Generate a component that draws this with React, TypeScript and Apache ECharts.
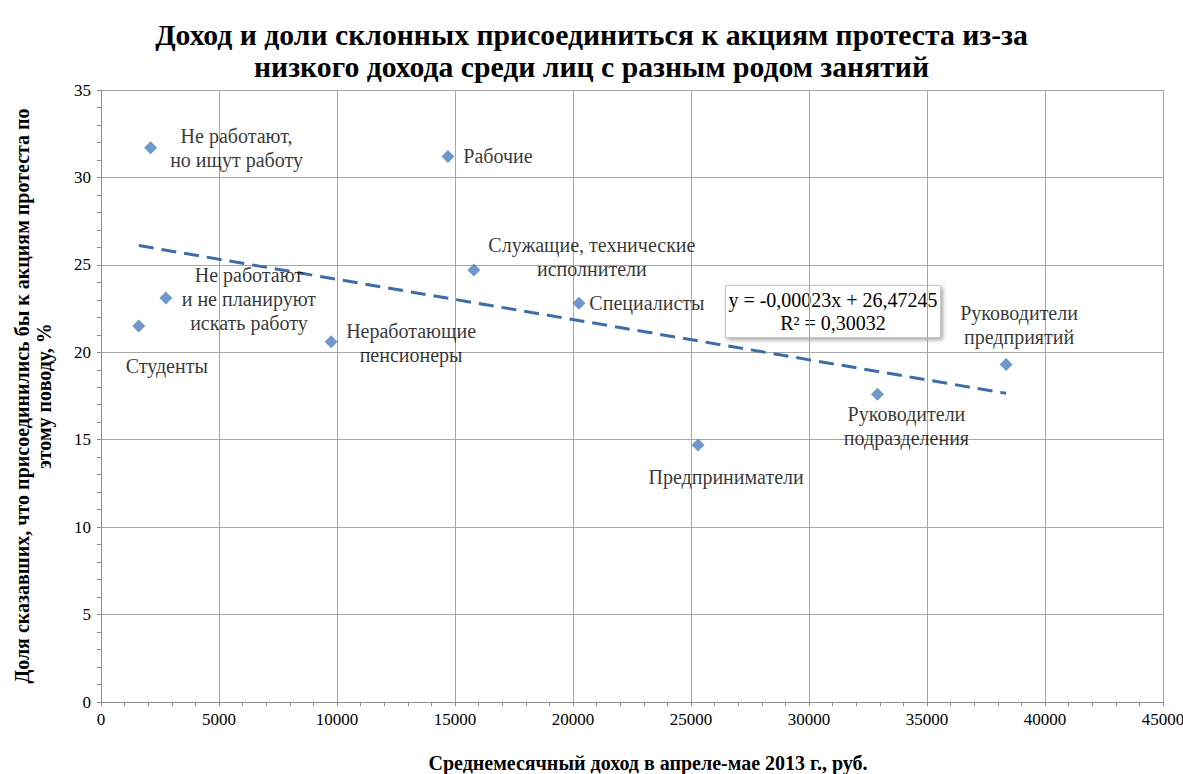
import React, { useEffect, useRef } from "react";
import * as echarts from "echarts";

const titleLines = [
  "Доход и доли склонных присоединиться к акциям протеста из-за",
  "низкого дохода среди лиц с разным родом занятий",
];
const xAxisTitle = "Среднемесячный доход в апреле-мае 2013 г., руб.";
const yAxisTitle = "Доля сказавших, что присоединились бы к акциям протеста по\nэтому поводу, %";

const categories = [
  "Не работают,\nно ищут работу",
  "Рабочие",
  "Служащие, технические\nисполнители",
  "Не работают\nи не планируют\nискать работу",
  "Студенты",
  "Неработающие\nпенсионеры",
  "Специалисты",
  "Предприниматели",
  "Руководители\nподразделения",
  "Руководители\nпредприятий",
];
const incomes = [2100, 14700, 15800, 2750, 1600, 9750, 20250, 25300, 32900, 38350];
const shares = [31.7, 31.2, 24.7, 23.1, 21.5, 20.6, 22.8, 14.7, 17.6, 19.3];

const trendSlope = -0.00023;
const trendIntercept = 26.47245;
const trendEquation = "y = -0,00023x + 26,47245";
const trendR2 = "R² = 0,30032";

const xTicks = { min: 0, max: 45000, interval: 5000 };
const yTicks = { min: 0, max: 35, interval: 5 };

// label placement (layout only): offset of label centre from the point, px
const labelOffsets: number[][] = [
  [86, 0],
  [50, 0],
  [118, -13],
  [83, 1],
  [28, 40],
  [80, 1],
  [68, 0],
  [28, 32],
  [29, 32],
  [13, -40],
];

const SERIF = "'Liberation Serif', 'Times New Roman', serif";
const SYMBOL_SIZE = 13;

export default function App() {
  const ref = useRef<HTMLDivElement>(null);
  useEffect(() => {
    document.body.style.margin = "0";
    const chart = echarts.init(ref.current!, undefined, { renderer: "svg" });
    const xMin = Math.min(...incomes);
    const xMax = Math.max(...incomes);
    const trendData = [
      [xMin, trendSlope * xMin + trendIntercept],
      [xMax, trendSlope * xMax + trendIntercept],
    ];
    const half = SYMBOL_SIZE / 2;
    const points = incomes.map((x, i) => {
      const o = labelOffsets[i];
      return {
        value: [x, shares[i]],
        name: categories[i],
        label: {
          show: true,
          formatter: categories[i],
          position: [half + o[0], half + o[1]],
          align: "center",
          verticalAlign: "middle",
        },
      };
    });
    chart.setOption({
      animation: false,
      backgroundColor: "#ffffff",
      title: {
        text: titleLines.join("\n"),
        left: "center",
        top: 14,
        textStyle: {
          fontFamily: SERIF,
          fontWeight: "bold",
          fontSize: 29.7,
          lineHeight: 32,
          color: "#000",
        },
      },
      grid: {
        left: 101,
        top: 90,
        right: 20,
        bottom: 72,
        containLabel: false,
        outerBoundsMode: "none",
      },
      xAxis: {
        type: "value",
        min: xTicks.min,
        max: xTicks.max,
        interval: xTicks.interval,
        name: xAxisTitle,
        nameLocation: "middle",
        nameGap: 51,
        nameTextStyle: {
          fontFamily: SERIF,
          fontWeight: "bold",
          fontSize: 20,
          color: "#000",
          padding: [0, 0, 0, 32],
        },
        axisLine: { show: true, lineStyle: { color: "#8c8c8c", width: 1 } },
        axisTick: { show: true, length: 4, lineStyle: { color: "#8c8c8c" } },
        minorTick: { show: true, splitNumber: 5, length: 4, lineStyle: { color: "#8c8c8c" } },
        splitLine: { show: true, lineStyle: { color: "#a6a6a6", width: 1 } },
        axisLabel: {
          fontFamily: SERIF,
          fontSize: 17,
          color: "#000",
          margin: 9,
          formatter: (v: number) => String(v),
        },
      },
      yAxis: {
        type: "value",
        min: yTicks.min,
        max: yTicks.max,
        interval: yTicks.interval,
        name: yAxisTitle,
        nameLocation: "middle",
        nameRotate: 90,
        nameGap: 46,
        nameTextStyle: {
          fontFamily: SERIF,
          fontWeight: "bold",
          fontSize: 20,
          lineHeight: 22,
          color: "#000",
        },
        axisLine: { show: true, lineStyle: { color: "#8c8c8c", width: 1 } },
        axisTick: { show: true, length: 4, lineStyle: { color: "#8c8c8c" } },
        minorTick: { show: true, splitNumber: 5, length: 4, lineStyle: { color: "#8c8c8c" } },
        splitLine: { show: true, lineStyle: { color: "#a6a6a6", width: 1 } },
        axisLabel: { fontFamily: SERIF, fontSize: 17, color: "#000", margin: 10 },
      },
      series: [
        {
          type: "line",
          data: trendData,
          symbol: "none",
          lineStyle: { color: "#3e6ca7", width: 3, type: [15, 8] },
          z: 2,
          silent: true,
        },
        {
          type: "scatter",
          data: points,
          symbol: "diamond",
          symbolSize: SYMBOL_SIZE,
          itemStyle: { color: "#4a7ebb" },
          label: {
            fontFamily: SERIF,
            fontSize: 20,
            lineHeight: 24,
            color: "#000",
          },
          labelLayout: { hideOverlap: false },
          z: 3,
        },
      ],
      graphic: [
        {
          type: "group",
          left: 725,
          top: 285,
          children: [
            {
              type: "rect",
              shape: { x: 0, y: 0, width: 215, height: 52 },
              style: {
                fill: "#fff",
                stroke: "#c8c8c8",
                lineWidth: 1,
                shadowBlur: 4,
                shadowOffsetX: 2,
                shadowOffsetY: 2,
                shadowColor: "rgba(0,0,0,0.35)",
              },
            },
            {
              type: "text",
              x: 107.5,
              y: 26,
              style: {
                text: trendEquation + "\n" + trendR2,
                fontFamily: SERIF,
                fontSize: 20,
                lineHeight: 23,
                fill: "#000",
                align: "center",
                verticalAlign: "middle",
              },
            },
          ],
        },
      ],
    });
    return () => chart.dispose();
  }, []);
  return (
    <div
      ref={ref}
      style={{ position: "absolute", left: 0, top: 0, width: 1183, height: 774 }}
    />
  );
}
